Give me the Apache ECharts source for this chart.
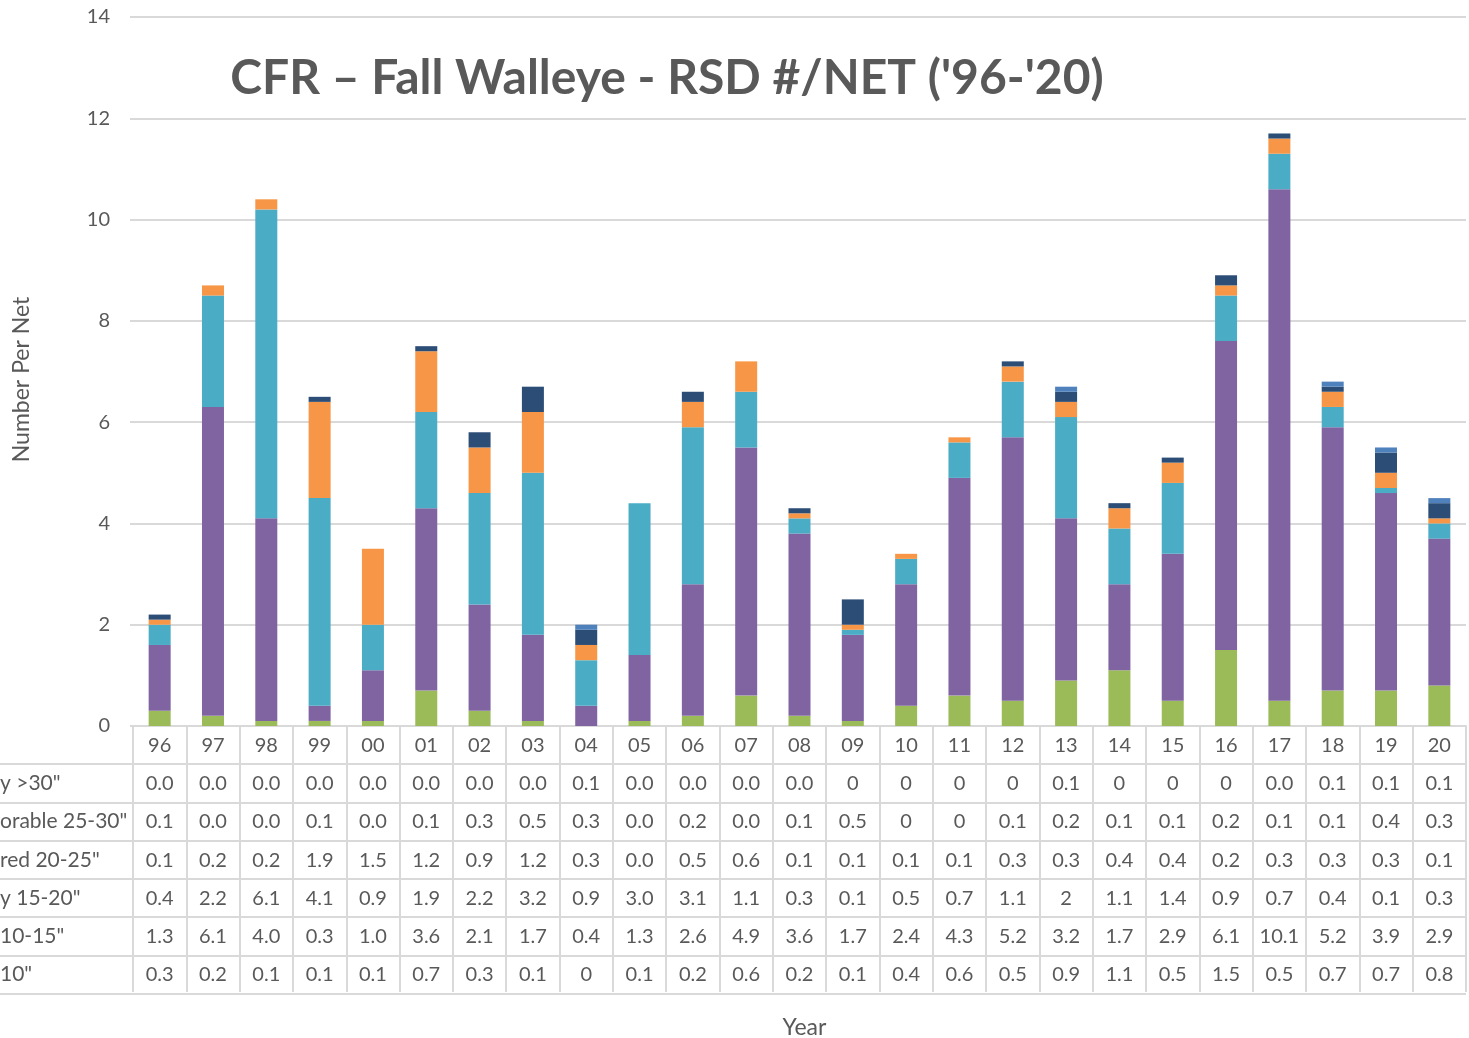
<!DOCTYPE html>
<html>
<head>
<meta charset="utf-8">
<script src="https://cdn.jsdelivr.net/npm/echarts@6/dist/echarts.min.js"></script>
<style>
  html, body { margin: 0; padding: 0; background: #fff; }
  #chart { width: 1469px; height: 1038px; }
</style>
</head>
<body>
<div id="chart"></div>
<script>
// values as printed in the data table (strings keep the "0.0" / "0" look)
const years = ['96','97','98','99','00','01','02','03','04','05','06','07','08','09','10','11','12','13','14','15','16','17','18','19','20'];
const over30  = ['0.0','0.0','0.0','0.0','0.0','0.0','0.0','0.0','0.1','0.0','0.0','0.0','0.0','0','0','0','0','0.1','0','0','0','0.0','0.1','0.1','0.1'];
const r25to30 = ['0.1','0.0','0.0','0.1','0.0','0.1','0.3','0.5','0.3','0.0','0.2','0.0','0.1','0.5','0','0','0.1','0.2','0.1','0.1','0.2','0.1','0.1','0.4','0.3'];
const r20to25 = ['0.1','0.2','0.2','1.9','1.5','1.2','0.9','1.2','0.3','0.0','0.5','0.6','0.1','0.1','0.1','0.1','0.3','0.3','0.4','0.4','0.2','0.3','0.3','0.3','0.1'];
const r15to20 = ['0.4','2.2','6.1','4.1','0.9','1.9','2.2','3.2','0.9','3.0','3.1','1.1','0.3','0.1','0.5','0.7','1.1','2','1.1','1.4','0.9','0.7','0.4','0.1','0.3'];
const r10to15 = ['1.3','6.1','4.0','0.3','1.0','3.6','2.1','1.7','0.4','1.3','2.6','4.9','3.6','1.7','2.4','4.3','5.2','3.2','1.7','2.9','6.1','10.1','5.2','3.9','2.9'];
const under10 = ['0.3','0.2','0.1','0.1','0.1','0.7','0.3','0.1','0','0.1','0.2','0.6','0.2','0.1','0.4','0.6','0.5','0.9','1.1','0.5','1.5','0.5','0.7','0.7','0.8'];

// row labels as they show (cut off at the left edge in the original)
const rowNames = ['y >30"', 'orable 25-30"', 'red 20-25"', 'y 15-20"', '10-15"', '10"'];
const tableRows = [over30, r25to30, r20to25, r15to20, r10to15, under10];

const yTicks = { min: 0, max: 14, step: 2 };

const gray = '#595959';
const lineGray = '#d9d9d9';
const font = 'Lato, "Open Sans", sans-serif';
const rowH = 38.3;

const chart = echarts.init(document.getElementById('chart'));

// stacked from the bottom up
const stackList = [
  { data: under10, color: '#9bbb59' },
  { data: r10to15, color: '#8064a2' },
  { data: r15to20, color: '#4bacc6' },
  { data: r20to25, color: '#f79646' },
  { data: r25to30, color: '#2c4d75' },
  { data: over30,  color: '#4f81bd' }
];

const option = {
  backgroundColor: '#fff',
  animation: false,
  textStyle: { fontFamily: font, color: gray },
  title: {
    text: "CFR \u2013 Fall Walleye - RSD #/NET ('96-'20)",
    left: 662,
    textAlign: 'center',
    top: 50,
    textStyle: { fontFamily: font, fontSize: 48, fontWeight: 'bold', color: gray }
  },
  grid: [
    { left: 133, right: 3, top: 17, height: 709, outerBoundsMode: 'none' },
    { left: 0, right: 3, top: 764, height: rowH * 6, outerBoundsMode: 'none' }
  ],
  xAxis: [
    {
      type: 'category',
      gridIndex: 0,
      data: years,
      axisLine: { lineStyle: { color: lineGray, width: 2 } },
      axisTick: { show: true, length: 266, lineStyle: { color: lineGray, width: 2 } },
      axisLabel: {
        margin: 0,
        interval: 0,
        color: gray,
        fontSize: 20,
        lineHeight: rowH,
        verticalAlign: 'top',
        formatter: (v, i) => [v].concat(tableRows.map(r => r[i])).join('\n')
      },
      name: 'Year',
      nameLocation: 'middle',
      nameGap: 290,
      nameTextStyle: { fontSize: 23, color: gray, padding: [0, 0, 0, 10] }
    },
    { type: 'value', gridIndex: 1, show: false, min: 0, max: 1 }
  ],
  yAxis: [
    {
      type: 'value',
      gridIndex: 0,
      min: yTicks.min,
      max: yTicks.max,
      interval: yTicks.step,
      axisLine: { show: false },
      axisTick: { show: true, length: 3, lineStyle: { color: lineGray, width: 2 } },
      axisLabel: { margin: 23, fontSize: 20, color: gray },
      splitLine: { lineStyle: { color: lineGray, width: 2 } },
      name: 'Number Per Net',
      nameLocation: 'middle',
      nameRotate: 90,
      nameGap: 100,
      nameTextStyle: { fontSize: 23, color: gray, padding: [0, 0, 0, -16] }
    },
    {
      type: 'category',
      gridIndex: 1,
      data: rowNames,
      inverse: true,
      axisLine: { show: false },
      axisTick: { show: false },
      axisLabel: { inside: true, margin: 0, align: 'left', fontSize: 21, color: gray },
      splitLine: { show: true, lineStyle: { color: lineGray, width: 2 } }
    }
  ],
  series: stackList.map(s => ({
    type: 'bar',
    stack: 'rsd',
    xAxisIndex: 0,
    yAxisIndex: 0,
    barWidth: 22,
    itemStyle: { color: s.color },
    data: s.data.map(Number)
  }))
};

chart.setOption(option);
</script>
</body>
</html>
